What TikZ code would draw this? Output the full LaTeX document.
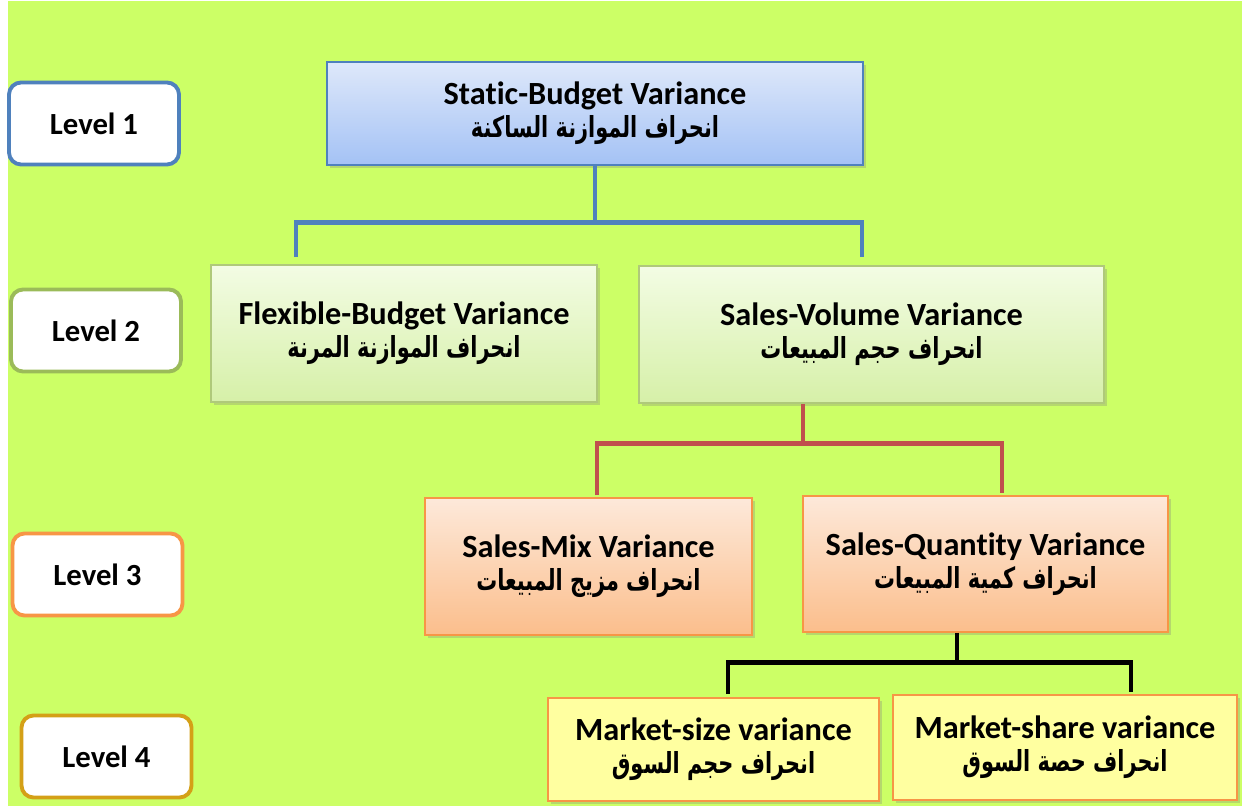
\documentclass[tikz,border=0pt]{standalone}
\usepackage{fontspec}
\setmainfont[Ligatures=NoCommon]{Carlito}
\newfontfamily\arabicfont[Script=Arabic, FakeStretch=0.72]{DejaVu Sans}
\TeXXeTstate=1
\usetikzlibrary{positioning,shadows,calc}

\definecolor{bggreen}{RGB}{204,255,102}
\definecolor{lvblue}{RGB}{79,129,189}
\definecolor{lvgreen}{RGB}{155,187,89}
\definecolor{lvorange}{RGB}{247,150,70}
\definecolor{lvgold}{RGB}{212,160,23}
\definecolor{lnred}{RGB}{192,80,77}
\definecolor{bluetop}{RGB}{222,232,250}
\definecolor{bluebot}{RGB}{164,194,245}
\definecolor{greentop}{RGB}{243,252,228}
\definecolor{greenbot}{RGB}{214,240,168}
\definecolor{orangetop}{RGB}{253,233,218}
\definecolor{orangebot}{RGB}{251,190,140}
\definecolor{paleyellow}{RGB}{255,255,160}

\newcommand{\artext}[1]{{\arabicfont\fontsize{16.5}{19}\selectfont\beginR #1\endR}}

\begin{document}
\begin{tikzpicture}[
    x=0.02cm, y=-0.02cm,
    level/.style={draw=#1, line width=2.2pt, rounded corners=0.24cm, fill=white, minimum width=3.4cm, minimum height=1.64cm, font=\fontsize{17.5}{19}\selectfont\bfseries},
    var/.style={line width=0.9pt, align=center, inner sep=0pt, drop shadow={opacity=0.3, shadow xshift=1.6pt, shadow yshift=-1.6pt}, font=\fontsize{18.4}{19}\selectfont\bfseries},
    bluebox/.style={var, draw=lvblue, top color=bluetop, bottom color=bluebot},
    greenbox/.style={var, draw=lvgreen!80, top color=greentop, bottom color=greenbot},
    orangebox/.style={var, draw=lvorange, top color=orangetop, bottom color=orangebot},
    yellowbox/.style={var, draw=lvorange, fill=paleyellow},
    link/.style={line width=2.8pt, draw=#1}
]

% background
\useasboundingbox (0,0) rectangle (1242,807);
\fill[bggreen] (8,1) rectangle (1242,806);

% level tags
\node[level=lvblue] (lv1) at (94,123.5) {Level 1};
\node[level=lvgreen] (lv2) at (96,330.5) {Level 2};
\node[level=lvorange] (lv3) at (97.5,574.5) {Level 3};
\node[level=lvgold] (lv4) at (106.5,756.5) {Level 4};

% variance boxes
\node[bluebox, minimum width=10.72cm, minimum height=2.06cm] (static) at (595,113.5)
  {Static-Budget Variance\\\artext{انحراف الموازنة الساكنة}};
\node[greenbox, minimum width=7.72cm, minimum height=2.74cm] (flex) at (404,333.5)
  {Flexible-Budget Variance\\\artext{انحراف الموازنة المرنة}};
\node[greenbox, minimum width=9.3cm, minimum height=2.74cm] (volume) at (871.5,334.5)
  {Sales-Volume Variance\\\artext{انحراف حجم المبيعات}};
\node[orangebox, minimum width=6.54cm, minimum height=2.74cm] (mix) at (588.5,566.5)
  {Sales-Mix Variance\\\artext{انحراف مزيج المبيعات}};
\node[orangebox, minimum width=7.3cm, minimum height=2.72cm] (qty) at (985.5,564)
  {Sales-Quantity Variance\\\artext{انحراف كمية المبيعات}};
\node[yellowbox, minimum width=6.62cm, minimum height=2.06cm] (msize) at (713.5,749.5)
  {Market-size variance\\\artext{انحراف حجم السوق}};
\node[yellowbox, minimum width=6.88cm, minimum height=2.1cm] (mshare) at (1065,747.5)
  {Market-share variance\\\artext{انحراف حصة السوق}};

% connectors
\draw[link=lvblue] (static.south) -- ++(0,57) coordinate (bj);
\draw[link=lvblue] ($(flex.north)+(-108,-7)$) |- (bj) -| ($(volume.north)+(-9.5,-8)$);

\draw[link=lnred] ($(volume.south)+(-68.5,0)$) -- ++(0,40) coordinate (rj);
\draw[link=lnred] ($(mix.north)+(8.5,-2)$) |- (rj) -| ($(qty.north)+(16.5,-2)$);

\draw[link=black] ($(qty.south)+(-28.5,0)$) -- ++(0,30) coordinate (kj);
\draw[link=black] ($(msize.north)+(14.5,-3)$) |- (kj) -| ($(mshare.north)+(66,-2)$);

\end{tikzpicture}
\end{document}
